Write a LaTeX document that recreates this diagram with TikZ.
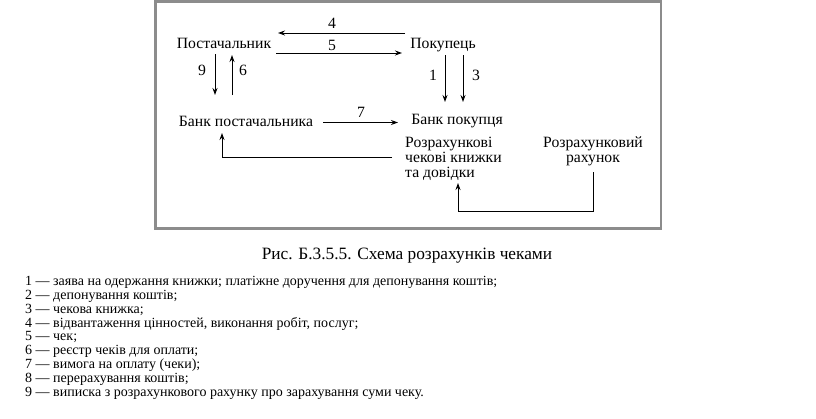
\documentclass[tikz,border=0pt]{standalone}
\usepackage{fontspec}
\setmainfont{Liberation Serif}
\usetikzlibrary{arrows.meta}
\tikzset{
  lbl/.style={inner sep=0pt, anchor=base, font=\fontsize{15.7}{15}\selectfont},
  num/.style={inner sep=0pt, font=\fontsize{15.7}{15}\selectfont},
  arr/.style={line width=1pt, -{Stealth[length=7pt,width=5pt]}},
  conn/.style={line width=1pt},
  frame/.style={draw=black!45, line width=2.5pt},
  legend/.style={inner sep=0pt, anchor=base west, font=\fontsize{14}{14}\selectfont},
}
\begin{document}
\begin{tikzpicture}[x=1pt,y=-1pt]
\useasboundingbox (0,0) rectangle (816,418);
\draw[frame] (155.5,1.5) rectangle (661,228.5);

\node[lbl] (post) at (224,48) {Постачальник};
\node[lbl] (pok) at (443,48) {Покупець};
\node[lbl] (bpost) at (246,126) {Банк постачальника};
\node[lbl] (bpok) at (457,124.5) {Банк покупця};
\node[lbl, anchor=base west, align=left] (rozr) at (405,177.5) {Розрахункові\\чекові книжки\\та довідки};
\node[lbl, align=center] (rah) at (593,162.5) {Розрахунковий\\рахунок};

% coordinates for connector ends
\coordinate (a4s) at (405,33);  \coordinate (a4e) at (278,33);
\coordinate (a5s) at (276,53);  \coordinate (a5e) at (402,53);
\coordinate (a9s) at (215,54);  \coordinate (a9e) at (215,95);
\coordinate (a6s) at (232,95);  \coordinate (a6e) at (232,55);
\coordinate (a1s) at (445,55);  \coordinate (a1e) at (445,102);
\coordinate (a3s) at (463,55);  \coordinate (a3e) at (463,102);
\coordinate (a7s) at (323,122.5); \coordinate (a7e) at (398,122.5);
\coordinate (ls) at (392,157);  \coordinate (le) at (222,133);
\coordinate (rs) at (593,172);  \coordinate (rb) at (593,211); \coordinate (re) at (458,183);

\draw[arr] (a4s) -- (a4e);
\draw[arr] (a5s) -- (a5e);
\draw[arr] (a9s) -- (a9e);
\draw[arr] (a6s) -- (a6e);
\draw[arr] (a1s) -- (a1e);
\draw[arr] (a3s) -- (a3e);
\draw[arr] (a7s) -- (a7e);
\draw[arr] (ls) -| (le);
\draw[arr] (rs) -- (rb) -| (re);

\node[num] (n4) at (332,23.5) {4};
\node[num] (n5) at (332,45.5) {5};
\node[num] (n9) at (202,70) {9};
\node[num] (n6) at (243,70) {6};
\node[num] (n1) at (433,75) {1};
\node[num] (n3) at (476,75) {3};
\node[num] (n7) at (361,112) {7};

\node[inner sep=0pt, anchor=base, font=\fontsize{17.3}{20}\selectfont] (cap) at (407,259) {Рис. Б.3.5.5. Схема розрахунків чеками};

\foreach \i/\t in {1/{1 — заява на одержання книжки; платіжне доручення для депонування коштів;},
  2/{2 — депонування коштів;},
  3/{3 — чекова книжка;},
  4/{4 — відвантаження цінностей, виконання робіт, послуг;},
  5/{5 — чек;},
  6/{6 — реєстр чеків для оплати;},
  7/{7 — вимога на оплату (чеки);},
  8/{8 — перерахування коштів;},
  9/{9 — виписка з розрахункового рахунку про зарахування суми чеку.}}
  \node[legend] (leg\i) at (25,{285.6+13.8*(\i-1)}) {\t};
\end{tikzpicture}
\end{document}
